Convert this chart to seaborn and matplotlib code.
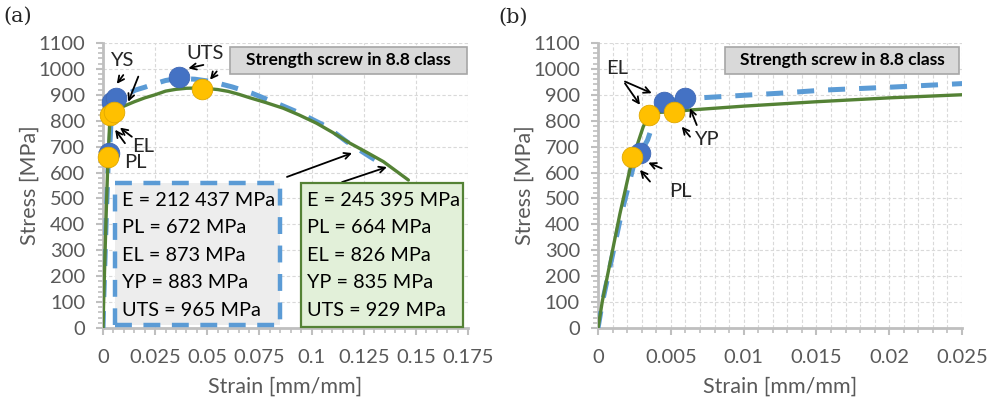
import numpy as np
import pandas as pd
import matplotlib
matplotlib.use("Agg")
import matplotlib.pyplot as plt
from matplotlib.patches import Rectangle
from matplotlib.ticker import MultipleLocator, FuncFormatter
import seaborn as sns

# curves (strain [mm/mm], stress [MPa])
green_strain = [0, 0.0003, 0.0015, 0.0023, 0.0031, 0.0035, 0.0042, 0.0052, 0.0063, 0.01, 0.015,
                0.02, 0.025, 0.03, 0.035, 0.04, 0.045, 0.05, 0.055, 0.06, 0.065, 0.0705, 0.078,
                0.0864, 0.094, 0.1024, 0.11, 0.1184, 0.1264, 0.1344, 0.1464]
green_stress = [0, 105, 440, 640, 776, 822, 832, 835, 841, 856, 873,
                888, 900, 914, 921, 925, 926, 924, 920, 913, 902, 888, 870,
                848, 822, 790, 755, 713, 678, 642, 571]

blue_strain = [0, 0.0003, 0.0016, 0.0025, 0.0029, 0.0034, 0.0042, 0.0045, 0.006, 0.007, 0.0125,
               0.0155, 0.02, 0.025, 0.03, 0.036, 0.044, 0.052, 0.062, 0.0713, 0.0833, 0.0944,
               0.1072, 0.1168, 0.128, 0.1328]
blue_stress = [0, 100, 440, 640, 675, 725, 860, 873, 886, 888, 906,
               918, 929, 943, 955, 963, 960, 951, 930, 906, 867, 829,
               777, 719, 661, 637]

# characteristic points (PL, EL, YP, UTS)
blue_pts_x = [0.0029, 0.0045, 0.0060, 0.0365]
blue_pts_y = [675, 873, 888, 967]
yellow_pts_x = [0.0023, 0.0035, 0.0052, 0.0473]
yellow_pts_y = [660, 822, 835, 921]

blue_box_lines = ["E = 212 437 MPa", "PL = 672 MPa", "EL = 873 MPa", "YP = 883 MPa", "UTS = 965 MPa"]
green_box_lines = ["E = 245 395 MPa", "PL = 664 MPa", "EL = 826 MPa", "YP = 835 MPa", "UTS = 929 MPa"]

title_txt = "Strength screw in 8.8 class"

BLUE = "#5B9BD5"
BLUE_DOT = "#4472C4"
GREEN = "#548235"
YELLOW = "#FFC000"
GRAY_TXT = "#595959"
AXIS_GRAY = "#BFBFBF"

sns.set_theme(style="white")
plt.rcParams["font.family"] = ["Lato", "DejaVu Sans"]

green_df = pd.DataFrame({"strain": green_strain, "stress": green_stress})
blue_df = pd.DataFrame({"strain": blue_strain, "stress": blue_stress})

fig = plt.figure(figsize=(9.88, 4.01), dpi=100)
axL = fig.add_axes([0.1043, 0.182, 0.3694, 0.711])
axR = fig.add_axes([0.6053, 0.182, 0.3684, 0.711])


def style_axis(ax, xmax, xmajor, xminor, xgrid_minor):
    ax.set_xlim(0, xmax)
    ax.set_ylim(0, 1100)
    ax.xaxis.set_major_locator(MultipleLocator(xmajor))
    ax.xaxis.set_minor_locator(MultipleLocator(xminor))
    ax.yaxis.set_major_locator(MultipleLocator(100))
    ax.yaxis.set_minor_locator(MultipleLocator(20))
    ax.xaxis.set_major_formatter(FuncFormatter(lambda v, p: "{:g}".format(round(v, 4))))
    for s in ["top", "right"]:
        ax.spines[s].set_visible(False)
    for s in ["left", "bottom"]:
        ax.spines[s].set_color(AXIS_GRAY)
        ax.spines[s].set_linewidth(2)
    ax.tick_params(which="major", direction="out", length=5, width=1.5, color=AXIS_GRAY,
                   labelsize=14.5, labelcolor=GRAY_TXT, left=True, bottom=True)
    ax.tick_params(which="minor", direction="out", length=3.5, width=1.2, color=AXIS_GRAY,
                   left=True, bottom=True)
    ax.tick_params(axis="y", pad=8)
    ax.tick_params(axis="x", pad=10)
    ax.yaxis.grid(True, which="major", color="#D9D9D9", linestyle=(0, (3, 2)), linewidth=0.8)
    ax.xaxis.grid(True, which="both" if xgrid_minor else "major", color="#D9D9D9",
                  linestyle=(0, (3, 2)), linewidth=0.8)
    ax.set_axisbelow(True)
    ax.set_xlabel("Strain [mm/mm]", fontsize=15.5, color=GRAY_TXT, labelpad=8)
    ax.set_ylabel("Stress [MPa]", fontsize=15.5, color=GRAY_TXT, labelpad=-1)


def draw_curves(ax):
    sns.lineplot(data=blue_df, x="strain", y="stress", sort=False, color=BLUE, linewidth=3.6,
                 linestyle=(0, (3.4, 2.8)), ax=ax, zorder=3)
    sns.lineplot(data=green_df, x="strain", y="stress", sort=False, color=GREEN, linewidth=2.4,
                 ax=ax, zorder=4)
    sns.scatterplot(x=blue_pts_x, y=blue_pts_y, color=BLUE_DOT, s=220, edgecolor="#3F68B5",
                    linewidth=0.6, ax=ax, zorder=5, clip_on=False)
    sns.scatterplot(x=yellow_pts_x, y=yellow_pts_y, color=YELLOW, s=220, edgecolor="#E0A800",
                    linewidth=0.6, ax=ax, zorder=6, clip_on=False)


def arrow(ax, start, end):
    ax.annotate("", xy=end, xytext=start,
                arrowprops=dict(arrowstyle="->", color="black", lw=1.3,
                                shrinkA=0, shrinkB=0, mutation_scale=11), zorder=7)


def title_box(ax, x0, x1):
    ax.add_patch(Rectangle((x0, 0.891), x1 - x0, 0.095, transform=ax.transAxes,
                           facecolor="#D9D9D9", edgecolor="#A6A6A6", linewidth=1.2,
                           zorder=8, clip_on=False))
    ax.text((x0 + x1) / 2, 0.9385, title_txt, transform=ax.transAxes, ha="center", va="center",
            fontsize=12.5, fontweight="bold", color="black", zorder=9)


# ---------------- (a) ----------------
draw_curves(axL)
style_axis(axL, 0.175, 0.025, 0.005, False)
title_box(axL, 0.348, 0.997)

axL.add_patch(Rectangle((0.033, 0.0105), 0.452, 0.4985, transform=axL.transAxes,
                        facecolor="#EDEDED", edgecolor=BLUE, linewidth=3.2,
                        linestyle=(0, (3.8, 2.6)), zorder=8, clip_on=False))
axL.add_patch(Rectangle((0.542, 0.0035), 0.444, 0.5055, transform=axL.transAxes,
                        facecolor="#E2F0D9", edgecolor=GREEN, linewidth=1.6,
                        zorder=8, clip_on=False))
rows_y = [0.449, 0.351, 0.256, 0.161, 0.063]
for txt, yy in zip(blue_box_lines, rows_y):
    axL.text(0.051, yy, txt, transform=axL.transAxes, ha="left", va="center",
             fontsize=14.3, color="black", zorder=9)
for txt, yy in zip(green_box_lines, rows_y):
    axL.text(0.559, yy, txt, transform=axL.transAxes, ha="left", va="center",
             fontsize=14.3, color="black", zorder=9)

axL.text(0.0089, 1034, "YS", fontsize=14.5, ha="center", va="center", zorder=9)
axL.text(0.0489, 1061, "UTS", fontsize=14.5, ha="center", va="center", zorder=9)
axL.text(0.0192, 699, "EL", fontsize=14.5, ha="center", va="center", zorder=9)
axL.text(0.0153, 637, "PL", fontsize=14.5, ha="center", va="center", zorder=9)
arrow(axL, (0.0097, 976), (0.0066, 942))
arrow(axL, (0.0169, 970), (0.0121, 873))
arrow(axL, (0.0481, 1015), (0.0409, 1002))
arrow(axL, (0.0545, 990), (0.0513, 958))
arrow(axL, (0.0105, 713), (0.0058, 765))
arrow(axL, (0.0138, 738), (0.0081, 773))
arrow(axL, (0.0882, 583), (0.1194, 675))
arrow(axL, (0.1146, 563), (0.1361, 621))

# ---------------- (b) ----------------
draw_curves(axR)
style_axis(axR, 0.025, 0.005, 0.001, True)
title_box(axR, 0.349, 0.992)

axR.text(0.00128, 1003, "EL", fontsize=14.5, ha="center", va="center", zorder=9)
axR.text(0.00747, 726, "YP", fontsize=14.5, ha="center", va="center", zorder=9)
axR.text(0.00563, 526, "PL", fontsize=14.5, ha="center", va="center", zorder=9)
arrow(axR, (0.00185, 951), (0.00369, 906))
arrow(axR, (0.00185, 944), (0.00288, 861))
arrow(axR, (0.00678, 783), (0.00632, 848))
arrow(axR, (0.00632, 738), (0.00575, 777))
arrow(axR, (0.00437, 616), (0.00345, 638))
arrow(axR, (0.00357, 565), (0.00288, 610))

fig.text(18 / 988, 1 - 16 / 401, "(a)", fontsize=15, family="DejaVu Serif", ha="center", va="center")
fig.text(513 / 988, 1 - 17 / 401, "(b)", fontsize=15, family="DejaVu Serif", ha="center", va="center")

fig.savefig("out.png", dpi=100)
